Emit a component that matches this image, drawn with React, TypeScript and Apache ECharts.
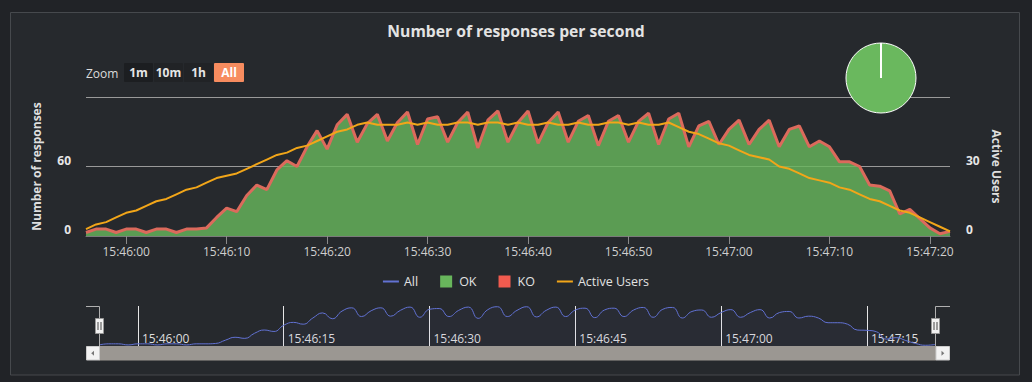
import React, { useEffect, useRef } from 'react';
import * as echarts from 'echarts';

// ---- data ----
const DAY = '2024-01-01';
const START_CLOCK = '15:45:56';
const STEP_MS = 1000;

const okCounts = [
  3, 6, 6, 3, 6, 6, 3, 6, 6, 3, 6, 6, 7, 16, 24, 21, 35, 44, 40, 57,
  65, 60, 77, 91, 75, 96, 105, 81, 97, 105, 82, 98, 107, 79, 101, 103, 81, 98, 107, 76,
  100, 108, 81, 98, 108, 80, 98, 107, 81, 99, 104, 78, 99, 104, 81, 99, 106, 79, 101, 106,
  77, 95, 99, 79, 92, 100, 79, 92, 100, 77, 92, 95, 77, 82, 77, 64, 64, 60, 44, 43,
  39, 19, 23, 15, 7, 2, 4,
];
const koCounts = [
  0, 0, 0, 0, 0, 0, 0, 0, 0, 0, 0, 0, 0, 0, 0, 0, 0, 0, 0, 0,
  0, 0, 0, 0, 0, 0, 0, 0, 0, 0, 0, 0, 0, 0, 0, 0, 0, 0, 0, 0,
  0, 0, 0, 0, 0, 0, 0, 0, 0, 0, 0, 0, 0, 0, 0, 0, 0, 0, 0, 0,
  0, 0, 0, 0, 0, 0, 0, 0, 0, 0, 0, 0, 0, 0, 0, 0, 0, 0, 0, 0,
  0, 0, 0, 0, 0, 0, 0,
];
const activeUsers = [
  3, 5, 6, 8, 10, 11, 13, 15, 16, 18, 20, 21, 23, 25, 26, 27, 29, 31, 33, 35,
  36, 38, 39, 41, 43, 45, 46, 48, 49, 48, 48, 48, 49, 48, 49, 48, 48, 49, 49, 48,
  49, 49, 48, 49, 48, 48, 49, 48, 48, 49, 48, 48, 49, 49, 48, 49, 48, 48, 49, 47,
  45, 44, 42, 40, 39, 37, 35, 34, 33, 30, 29, 27, 25, 24, 23, 21, 20, 18, 16, 15,
  13, 11, 10, 8, 6, 4, 2,
];

const legendNames = ['All', 'OK', 'KO', 'Active Users'];
const zoomButtons = ['1m', '10m', '1h', 'All'];
const mainTickLabels = [
  '15:46:00', '15:46:10', '15:46:20', '15:46:30', '15:46:40',
  '15:46:50', '15:47:00', '15:47:10', '15:47:20',
];
const navTickLabels = ['15:46:00', '15:46:15', '15:46:30', '15:46:45', '15:47:00', '15:47:15'];
const responsesAxis = { min: 0, max: 120, interval: 60 };
const usersAxis = { min: 0, max: 60, interval: 30 };

// ---- styles ----
const FONT = '"Open Sans", "Noto Sans", sans-serif';
const OUTER_BG = '#212327';
const PANEL_BG = '#26292d';
const C_OK = '#68b65c';
const C_KO = '#f15b4f';
const C_KO_LINE = '#dc6a5c';
const C_USERS = '#f2a619';
const C_ALL = '#6272d3';

function clockToMs(clock: string) {
  const [h, m, s] = clock.split(':').map(Number);
  const [y, mo, d] = DAY.split('-').map(Number);
  return new Date(y, mo - 1, d, h, m, s).getTime();
}
function pad(n: number) {
  return n < 10 ? '0' + n : '' + n;
}
function fmtTime(v: number) {
  const d = new Date(v);
  return pad(d.getHours()) + ':' + pad(d.getMinutes()) + ':' + pad(d.getSeconds());
}

const LINE_ICON = 'path://M0,0 L16,0 L16,2 L0,2 Z';
const SQUARE_ICON = 'path://M0,0 L12,0 L12,12 L0,12 Z';

export default function App() {
  const ref = useRef<HTMLDivElement>(null);

  useEffect(() => {
    document.body.style.margin = '0';
    document.body.style.background = OUTER_BG;
    if (!ref.current) return;
    const chart = echarts.init(ref.current, undefined, { renderer: 'svg' });

    const start = clockToMs(START_CLOCK);
    const times = okCounts.map((_, i) => start + i * STEP_MS);
    const endTime = times[times.length - 1];
    const okData = times.map((t, i) => [t, okCounts[i]]);
    // KO is stacked on top of OK: its edge sits at OK + KO
    const koTopData = times.map((t, i) => [t, okCounts[i] + koCounts[i]]);
    const usersData = times.map((t, i) => [t, activeUsers[i]]);
    const allData = times.map((t, i) => [t, okCounts[i] + koCounts[i]]);
    const okTotal = okCounts.reduce((a, b) => a + b, 0);
    const koTotal = koCounts.reduce((a, b) => a + b, 0);
    const mainTicks = mainTickLabels.map(clockToMs);
    const navTicks = navTickLabels.map(clockToMs);

    const btnX = [124, 154, 184, 214];
    const btnW = [29, 29, 29, 30];
    const btnFill = ['#1c1e21', '#212326', '#212326', '#f78c5f'];
    const buttonEls: any[] = [];
    zoomButtons.forEach((b, i) => {
      buttonEls.push({
        type: 'rect',
        shape: { x: btnX[i], y: 63, width: btnW[i], height: 19, r: 1 },
        style: { fill: btnFill[i] },
        z: 10,
      });
      buttonEls.push({
        type: 'text',
        x: btnX[i] + btnW[i] / 2,
        y: 72.5,
        style: {
          text: b,
          fill: i === 3 ? '#ffffff' : '#e6e6e6',
          font: `bold 12px ${FONT}`,
          align: 'center',
          verticalAlign: 'middle',
        },
        z: 11,
      });
    });

    const handle = (cx: number) => [
      {
        type: 'rect',
        shape: { x: cx - 4, y: 318.5, width: 8, height: 15 },
        style: { fill: '#f2f2f2', stroke: '#999', lineWidth: 1 },
        z: 30,
      },
      {
        type: 'line',
        shape: { x1: cx - 1.5, y1: 322, x2: cx - 1.5, y2: 330 },
        style: { stroke: '#444', lineWidth: 1 },
        z: 31,
      },
      {
        type: 'line',
        shape: { x1: cx + 1.5, y1: 322, x2: cx + 1.5, y2: 330 },
        style: { stroke: '#444', lineWidth: 1 },
        z: 31,
      },
    ];

    const option: any = {
      animation: false,
      backgroundColor: OUTER_BG,
      textStyle: { fontFamily: FONT },
      title: {
        text: 'Number of responses per second',
        left: 'center',
        top: 23,
        padding: 0,
        textStyle: { color: '#e3e3e3', fontSize: 15.7, fontWeight: 'bold', fontFamily: FONT },
      },
      legend: {
        data: [
          { name: legendNames[0], icon: LINE_ICON },
          { name: legendNames[1], icon: SQUARE_ICON },
          { name: legendNames[2], icon: SQUARE_ICON },
          { name: legendNames[3], icon: LINE_ICON },
        ],
        left: 'center',
        top: 270,
        itemWidth: 16,
        itemHeight: 12,
        itemGap: 22,
        selectedMode: false,
        textStyle: { color: '#e2e2e2', fontSize: 12.5, fontFamily: FONT },
      },
      grid: [
        { left: 86, right: 82, top: 97, height: 139 },
        { left: 99, right: 97, top: 306, height: 40 },
      ],
      xAxis: [
        {
          type: 'value',
          gridIndex: 0,
          min: start,
          max: endTime,
          axisLine: { lineStyle: { color: '#7b7b7b', width: 1 } },
          axisTick: { show: true, length: 8, lineStyle: { color: '#8a8a8a' }, customValues: mainTicks },
          axisLabel: {
            color: '#cfcfcf',
            fontSize: 12,
            margin: 9,
            hideOverlap: false,
            customValues: mainTicks,
            formatter: (v: number) => fmtTime(v),
          },
          splitLine: { show: false },
        },
        {
          type: 'value',
          gridIndex: 1,
          min: start,
          max: endTime,
          axisLine: { show: false },
          axisTick: { show: false, customValues: navTicks },
          axisLabel: {
            inside: true,
            align: 'left',
            padding: [0, 0, 0, 4],
            margin: 2,
            color: '#dedede',
            fontSize: 12,
            hideOverlap: false,
            customValues: navTicks,
            formatter: (v: number) => fmtTime(v),
          },
          splitLine: { show: true, lineStyle: { color: '#e6e6e6', width: 1 } },
        },
      ],
      yAxis: [
        {
          type: 'value',
          gridIndex: 0,
          min: responsesAxis.min,
          max: responsesAxis.max,
          interval: responsesAxis.interval,
          axisLine: { show: false },
          axisTick: { show: false },
          axisLabel: {
            color: '#e6e6e6',
            fontSize: 12,
            fontWeight: 'bold',
            margin: 15,
            verticalAlign: 'bottom',
            lineHeight: 13,
            showMaxLabel: false,
          },
          splitLine: { show: true, lineStyle: { color: '#999999', width: 1 } },
          name: 'Number of responses',
          nameLocation: 'middle',
          nameRotate: 90,
          nameGap: 44,
          nameTextStyle: { color: '#dedede', fontSize: 12, fontWeight: 'bold', fontFamily: FONT },
        },
        {
          type: 'value',
          gridIndex: 0,
          position: 'right',
          min: usersAxis.min,
          max: usersAxis.max,
          interval: usersAxis.interval,
          axisLine: { show: false },
          axisTick: { show: false },
          axisLabel: {
            color: '#e6e6e6',
            fontSize: 12,
            fontWeight: 'bold',
            margin: 16,
            verticalAlign: 'bottom',
            lineHeight: 13,
            showMaxLabel: false,
          },
          splitLine: { show: false },
          name: 'Active Users',
          nameLocation: 'middle',
          nameRotate: -90,
          nameGap: 36,
          nameTextStyle: { color: '#dedede', fontSize: 12, fontWeight: 'bold', fontFamily: FONT },
        },
        {
          type: 'value',
          gridIndex: 1,
          min: 0,
          max: 110,
          show: false,
          splitLine: { show: false },
        },
      ],
      series: [
        {
          name: 'All',
          type: 'line',
          xAxisIndex: 1,
          yAxisIndex: 2,
          data: allData,
          color: C_ALL,
          smooth: true,
          showSymbol: false,
          lineStyle: { width: 1, color: C_ALL },
          areaStyle: { color: 'rgba(98,114,211,0.07)' },
          silent: true,
          z: 3,
        },
        {
          name: 'OK',
          type: 'line',
          data: okData,
          color: C_OK,
          showSymbol: false,
          lineStyle: { width: 0 },
          areaStyle: { color: C_OK, opacity: 0.82 },
          silent: true,
          z: 2,
        },
        {
          name: 'KO',
          type: 'line',
          data: koTopData,
          color: C_KO,
          showSymbol: false,
          lineStyle: { width: 3, color: C_KO_LINE },
          silent: true,
          z: 3,
        },
        {
          name: 'Active Users',
          type: 'line',
          yAxisIndex: 1,
          data: usersData,
          color: C_USERS,
          showSymbol: false,
          lineStyle: { width: 2, color: C_USERS },
          silent: true,
          z: 4,
        },
        {
          name: 'Distribution',
          type: 'pie',
          center: [881, 78],
          radius: 35,
          startAngle: 90,
          silent: true,
          label: { show: false },
          labelLine: { show: false },
          itemStyle: { borderColor: '#ffffff', borderWidth: 1 },
          data: [
            { name: 'OK', value: okTotal, itemStyle: { color: '#6ab85e' } },
            { name: 'KO', value: koTotal, itemStyle: { color: C_KO } },
          ],
          z: 5,
        },
      ],
      graphic: [
        {
          type: 'rect',
          shape: { x: 10.5, y: 12.5, width: 1009, height: 362.5 },
          style: { fill: PANEL_BG, stroke: '#46494d', lineWidth: 1 },
          z: -100,
          silent: true,
        },
        {
          type: 'text',
          x: 86,
          y: 73,
          style: { text: 'Zoom', fill: '#dcdcdc', font: `12px ${FONT}`, verticalAlign: 'middle' },
          z: 10,
        },
        ...buttonEls,
        {
          type: 'line',
          shape: { x1: 881, y1: 78, x2: 881, y2: 43 },
          style: { stroke: '#ffffff', lineWidth: 2 },
          z: 50,
        },
        // navigator outline
        {
          type: 'polyline',
          shape: { points: [[86, 306.5], [99.5, 306.5], [99.5, 346]] },
          style: { stroke: '#b0b0b0', lineWidth: 1, fill: 'none' },
          z: 20,
        },
        {
          type: 'polyline',
          shape: { points: [[950, 306.5], [935.5, 306.5], [935.5, 346]] },
          style: { stroke: '#b0b0b0', lineWidth: 1, fill: 'none' },
          z: 20,
        },
        // scrollbar
        {
          type: 'rect',
          shape: { x: 99, y: 346, width: 837, height: 14.5 },
          style: { fill: '#9b9792' },
          z: 25,
        },
        {
          type: 'rect',
          shape: { x: 86.5, y: 346.5, width: 13, height: 13.5 },
          style: { fill: '#f2f2f2', stroke: '#cccccc', lineWidth: 1 },
          z: 26,
        },
        {
          type: 'rect',
          shape: { x: 936, y: 346.5, width: 13.5, height: 13.5 },
          style: { fill: '#f2f2f2', stroke: '#cccccc', lineWidth: 1 },
          z: 26,
        },
        {
          type: 'polygon',
          shape: { points: [[94, 350.8], [94, 355.8], [91.2, 353.3]] },
          style: { fill: '#777' },
          z: 27,
        },
        {
          type: 'polygon',
          shape: { points: [[941.5, 350.8], [941.5, 355.8], [944.3, 353.3]] },
          style: { fill: '#777' },
          z: 27,
        },
        ...handle(99.5),
        ...handle(935.5),
      ],
    };

    chart.setOption(option);
    return () => chart.dispose();
  }, []);

  return (
    <div
      ref={ref}
      style={{ position: 'absolute', left: 0, top: 0, width: 1032, height: 382 }}
    />
  );
}
